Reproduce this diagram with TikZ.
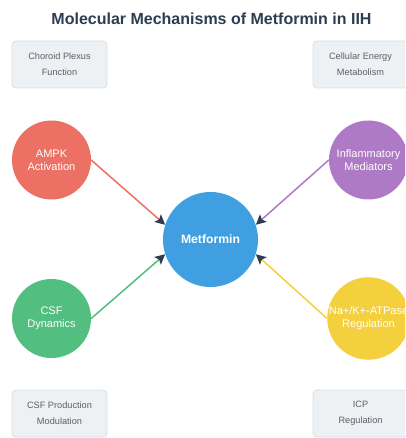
\documentclass[tikz,border=0pt]{standalone}
\usepackage{fontspec}
\setmainfont{Liberation Sans}
\usetikzlibrary{arrows.meta}
\definecolor{titlec}{HTML}{2C3E50}
\definecolor{boxfill}{HTML}{EEF1F4}
\definecolor{boxdraw}{HTML}{D9DEE3}
\definecolor{boxtext}{HTML}{5A6068}
\definecolor{cred}{HTML}{EC7063}
\definecolor{cblue}{HTML}{3F9FE0}
\definecolor{cpurple}{HTML}{AF7AC5}
\definecolor{cgreen}{HTML}{52BE80}
\definecolor{cyellow}{HTML}{F4D03F}
\begin{document}
\begin{tikzpicture}[x=1pt,y=-1pt,
  infobox/.style={draw=boxdraw,line width=0.8pt,fill=boxfill,rounded corners=4pt,
    minimum width=95pt,minimum height=47pt,inner sep=0pt,align=center,
    text=boxtext,font=\fontsize{9.2}{16}\selectfont},
  mech/.style={circle,minimum size=79pt,inner sep=0pt,align=center,text=white,
    font=\fontsize{11}{13}\selectfont},
  link/.style={line width=1.5pt,-{Stealth[length=10pt,width=10pt,inset=2pt,color=titlec]}}]
\useasboundingbox (0,0) rectangle (405,438);
\clip (0,0) rectangle (405,438);
\fill[white] (0,0) rectangle (405,438);
\node[font=\fontsize{16}{18}\selectfont\bfseries,text=titlec] (title) at (211.5,18.5) {Molecular Mechanisms of Metformin in IIH};
\node[infobox] (choroid) at (59.5,64.5) {Choroid Plexus\\Function};
\node[infobox] (energy) at (360.5,64.5) {Cellular Energy\\Metabolism};
\node[infobox] (csfprod) at (59.5,413.5) {CSF Production\\Modulation};
\node[infobox] (icp) at (360.5,413.5) {ICP\\Regulation};
\node[mech,fill=cblue,minimum size=95pt,font=\fontsize{12.2}{14}\selectfont\bfseries] (met) at (210.5,239.5) {Metformin};
\node[mech,fill=cred] (ampk) at (51.5,160) {AMPK\\Activation};
\node[mech,fill=cpurple] (infl) at (368.5,160) {Inflammatory\\Mediators};
\node[mech,fill=cgreen] (csf) at (51.5,318.5) {CSF\\Dynamics};
\node[mech,fill=cyellow] (atp) at (368.5,318.5) {Na+/K+-ATPase\\Regulation};
\draw[link,cred] (ampk.east) -- (met.162);
\draw[link,cpurple] (infl.west) -- (met.18);
\draw[link,cgreen] (csf.east) -- (met.198);
\draw[link,cyellow] (atp.west) -- (met.-18);
\end{tikzpicture}
\end{document}
